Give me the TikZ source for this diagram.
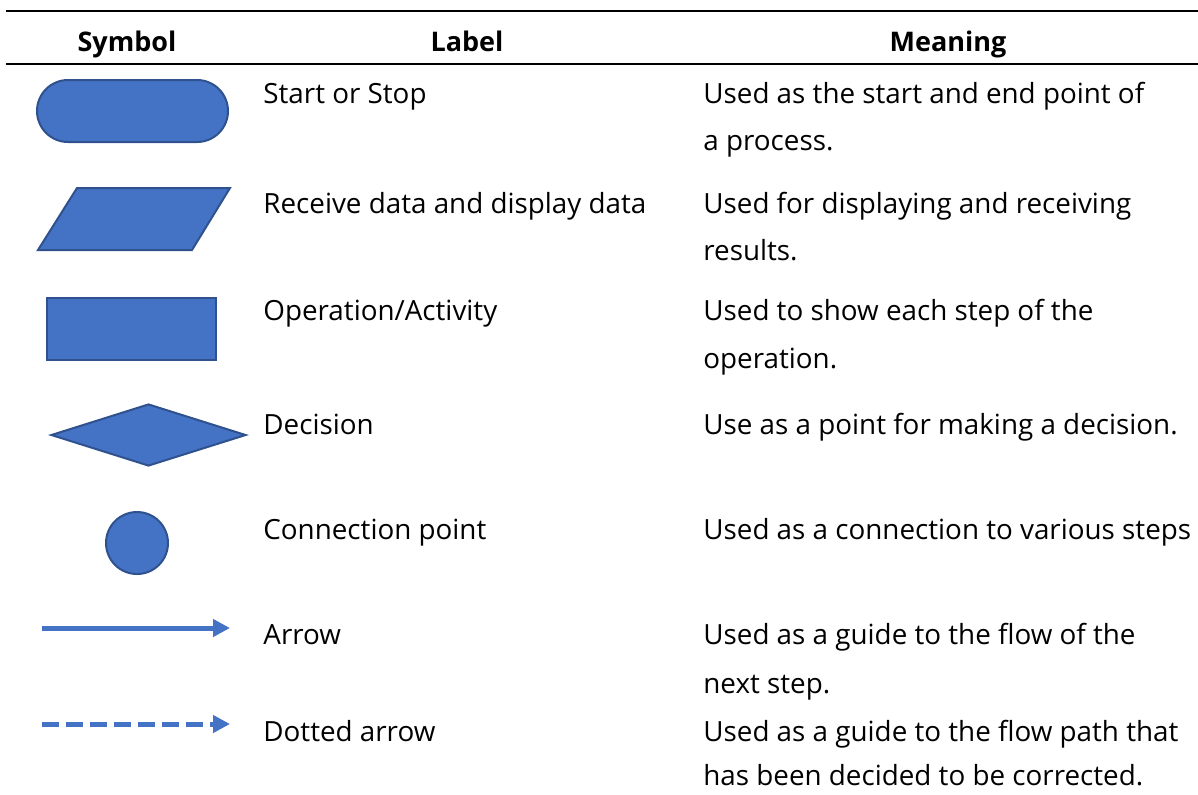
\documentclass[tikz,border=0pt]{standalone}
\usepackage{fontspec}
\setmainfont{Open Sans}
\usepackage{xcolor}
\usepackage{tikz}
\usetikzlibrary{shapes,arrows,arrows.meta,positioning,calc}

\definecolor{symfill}{HTML}{4472C4}
\definecolor{symline}{HTML}{2F528F}

\tikzset{
  sym/.style={draw=symline, fill=symfill, line width=1pt, inner sep=0pt},
  txt/.style={anchor=base west, inner sep=0pt, font=\fontsize{13.9pt}{16pt}\selectfont},
  head/.style={anchor=base, inner sep=0pt, font=\fontsize{13.5pt}{16pt}\selectfont\bfseries},
  rule/.style={line width=1pt},
  flowline/.style={draw=symfill, line width=2.5pt, -{Triangle[length=8.5pt,width=8.5pt]}}
}

\begin{document}
\begin{tikzpicture}[x=0.5pt,y=-0.5pt]
\useasboundingbox (0,0) rectangle (1198,794);

% table header
\draw[rule] (6,11) -- (1198,11);
\draw[rule] (6,64) -- (1198,64);
\node[head] (hsym) at (127,51) {Symbol};
\node[head] (hlab) at (467,51) {Label};
\node[head] (hmean) at (948,51) {Meaning};

% symbols
\node[sym, rounded corners=15.5pt, minimum width=95.5pt, minimum height=31pt] (term) at (132.5,111) {};
\draw[sym] (38,250) -- (77,188) -- (230,188) -- (192,250) -- cycle;
\node[sym, rectangle, minimum width=84.5pt, minimum height=31pt] (oper) at (131.5,329) {};
\node[sym, diamond, minimum width=97.5pt, minimum height=31pt] (dec) at (148.5,435) {};
\node[sym, circle, minimum size=31pt] (conn) at (137,543) {};
\coordinate (a1) at (42,628);
\coordinate (a2) at (230,628);
\draw[flowline] (a1) -- (a2);
\coordinate (d1) at (42,724);
\coordinate (d2) at (230,724);
\draw[flowline, dash pattern=on 8.5pt off 3.5pt] (d1) -- (d2);

% labels
\node[txt] (lterm) at (263,103) {Start or Stop};
\node[txt] (lio) at (263,213) {Receive data and display data};
\node[txt] (loper) at (263,320) {Operation/Activity};
\node[txt] (ldec) at (263,434) {Decision};
\node[txt] (lconn) at (263,539) {Connection point};
\node[txt] (larr) at (263,644) {Arrow};
\node[txt] (ldot) at (263,741) {Dotted arrow};

% meanings
\node[txt] (mterm) at (703,103) {Used as the start and end point of};
\node[txt] (mterm2) at (703,150) {a process.};
\node[txt] (mio) at (703,213) {Used for displaying and receiving};
\node[txt] (mio2) at (703,260) {results.};
\node[txt] (moper) at (703,320) {Used to show each step of the};
\node[txt] (moper2) at (703,368) {operation.};
\node[txt] (mdec) at (703,434) {Use as a point for making a decision.};
\node[txt] (mconn) at (703,539) {Used as a connection to various steps};
\node[txt] (marr) at (703,644) {Used as a guide to the flow of the};
\node[txt] (marr2) at (703,693) {next step.};
\node[txt] (mdot) at (703,741) {Used as a guide to the flow path that};
\node[txt] (mdot2) at (703,785) {has been decided to be corrected.};
\end{tikzpicture}
\end{document}
